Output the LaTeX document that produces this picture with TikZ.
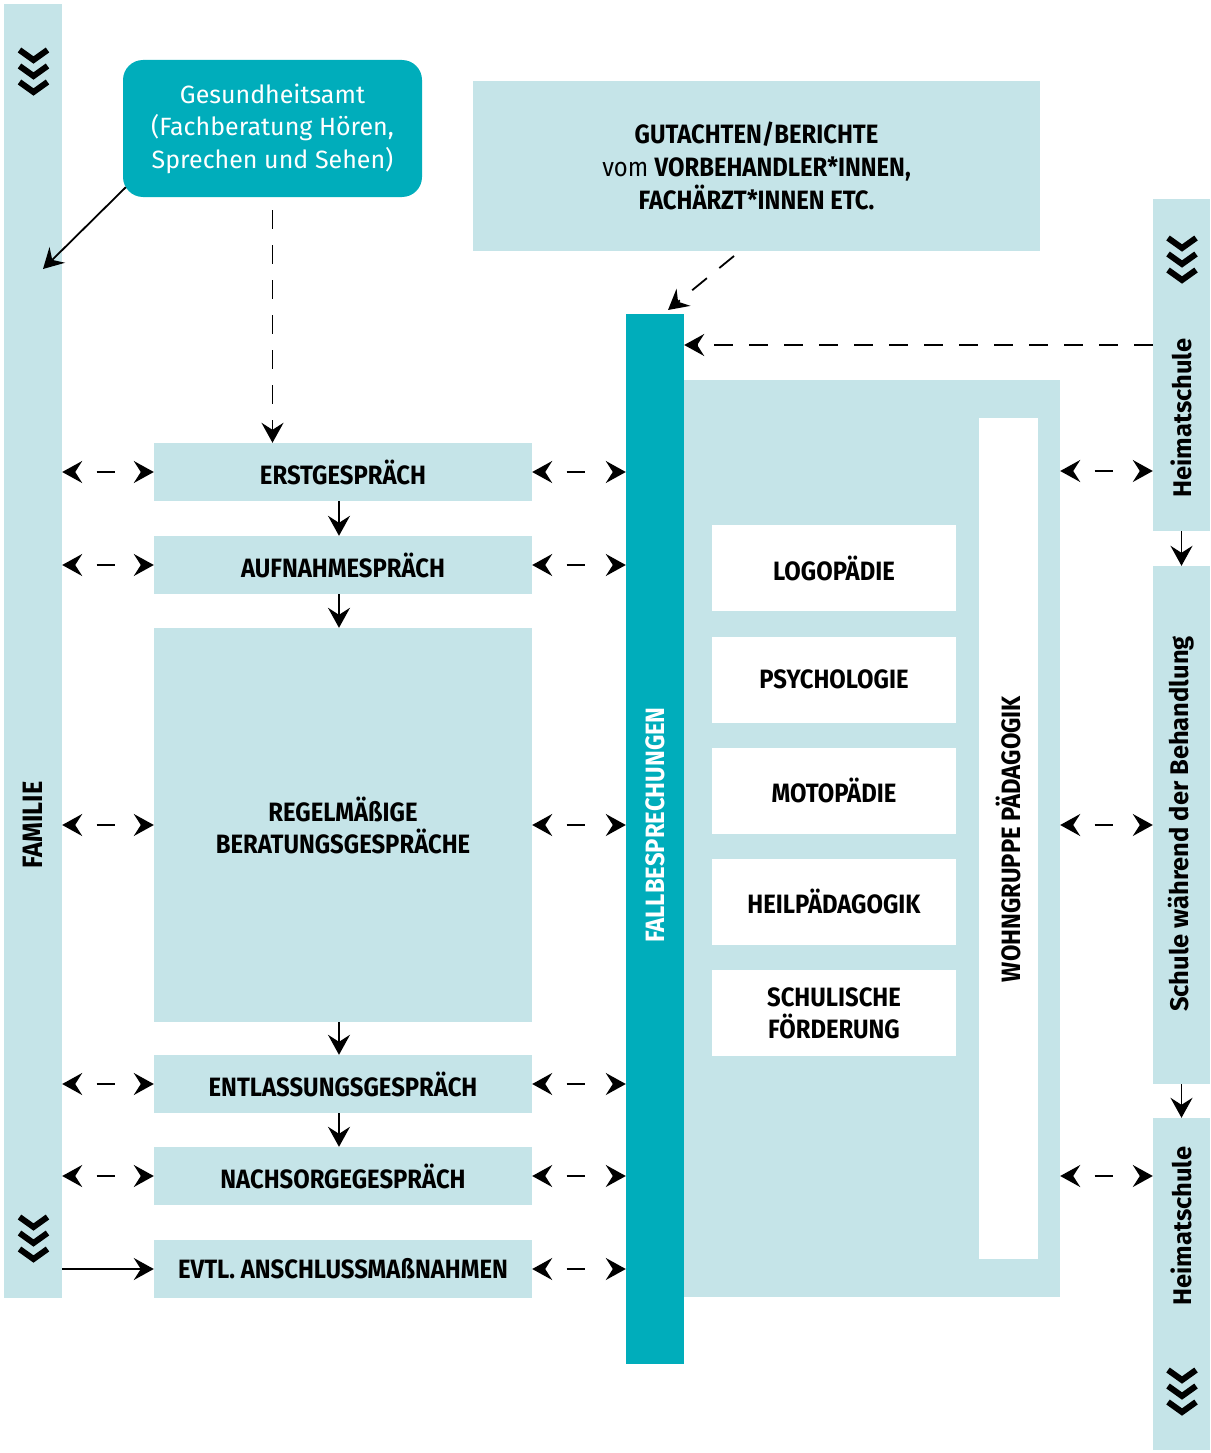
\documentclass[tikz,border=0pt]{standalone}
\usepackage{fontspec}
\setmainfont{Fira Sans}[FakeStretch=0.9]
\newfontfamily\widefont{Fira Sans}
\usetikzlibrary{arrows.meta}
\definecolor{lite}{RGB}{197,228,232}
\definecolor{tealc}{RGB}{0,173,187}
\newcommand\chevs[2]{\foreach \k in {0,16,32}{\draw[line width=6pt,miter limit=10] ({#1-14},{#2+\k}) -- ({#1},{#2+\k+10}) -- ({#1+14},{#2+\k});}}
\begin{document}
\begin{tikzpicture}[x=1pt,y=-1pt,
  lbox/.style={fill=lite,draw=none,inner sep=0pt,align=center,font=\bfseries\fontsize{26.5}{32}\selectfont},
  tbox/.style={fill=tealc,draw=none,inner sep=0pt,align=center},
  wbox/.style={fill=white,draw=none,inner sep=0pt,align=center,font=\bfseries\fontsize{26.5}{32}\selectfont},
  vlbl/.style={rotate=90,inner sep=0pt,font=\bfseries\fontsize{26.5}{30}\selectfont},
  vlblw/.style={rotate=90,inner sep=0pt,font=\widefont\bfseries\fontsize{25.5}{30}\selectfont},
  tip/.style={>={Stealth[length=20pt,width=22pt,inset=7pt]}},
  dbl/.style={tip,<->,line width=1.8pt,dash pattern=on 0pt off 22pt on 18pt off 300pt},
  dsh/.style={tip,->,line width=1.8pt,dash pattern=on 19pt off 16pt},
  sol/.style={tip,->,line width=1.8pt}]
\useasboundingbox (0,0) rectangle (1210,1453);
% left family bar
\node[lbox,minimum width=58pt,minimum height=1294pt] (fam) at (33,651) {};
\node[vlbl,font=\bfseries\fontsize{28}{30}\selectfont] (famlbl) at (33,825) {FAMILIE};
\chevs{33.5}{50}
\chevs{33.5}{1217}
% Gesundheitsamt
\node[tbox,rounded corners=20pt,minimum width=299pt,minimum height=137pt,text=white,font=\widefont\fontsize{25}{32.5}\selectfont] (ges) at (272.5,128.5) {Gesundheitsamt\\(Fachberatung Hören,\\Sprechen und Sehen)};
% Gutachten
\node[lbox,minimum width=567pt,minimum height=170pt,font=\fontsize{26.5}{33}\selectfont] (gut) at (756.5,166) {\textbf{GUTACHTEN/BERICHTE}\\vom \textbf{VORBEHANDLER*INNEN,}\\\textbf{FACHÄRZT*INNEN ETC.}};
% left column boxes
\node[lbox,minimum width=378pt,minimum height=58pt] (erst) at (343,472) {ERSTGESPRÄCH};
\node[lbox,minimum width=378pt,minimum height=58pt] (aufn) at (343,565) {AUFNAHMESPRÄCH};
\node[lbox,minimum width=378pt,minimum height=394pt] (regel) at (343,825) {REGELMÄßIGE\\BERATUNGSGESPRÄCHE};
\node[lbox,minimum width=378pt,minimum height=58pt] (entl) at (343,1084) {ENTLASSUNGSGESPRÄCH};
\node[lbox,minimum width=378pt,minimum height=58pt] (nach) at (343,1176) {NACHSORGEGESPRÄCH};
\node[lbox,minimum width=378pt,minimum height=58pt] (evtl) at (343,1269) {EVTL. ANSCHLUSSMAßNAHMEN};
% Fallbesprechungen
\node[tbox,minimum width=58pt,minimum height=1050pt] (fall) at (655,839) {};
\node[vlbl,text=white] (falllbl) at (655,825) {FALLBESPRECHUNGEN};
% big area
\node[lbox,minimum width=376pt,minimum height=917pt] (area) at (872,838.5) {};
\node[wbox,minimum width=59pt,minimum height=841pt] (wohn) at (1008.5,838.5) {};
\node[vlbl] (wohnlbl) at (1008.5,839) {WOHNGRUPPE PÄDAGOGIK};
\node[wbox,minimum width=244pt,minimum height=86pt] (logo) at (834,568) {LOGOPÄDIE};
\node[wbox,minimum width=244pt,minimum height=86pt] (psy) at (834,679.5) {PSYCHOLOGIE};
\node[wbox,minimum width=244pt,minimum height=86pt] (moto) at (834,790.5) {MOTOPÄDIE};
\node[wbox,minimum width=244pt,minimum height=86pt] (heil) at (834,901.5) {HEILPÄDAGOGIK};
\node[wbox,minimum width=244pt,minimum height=86pt] (schul) at (834,1013) {SCHULISCHE\\FÖRDERUNG};
% right bars
\node[lbox,minimum width=57pt,minimum height=332pt] (heim1) at (1181.5,365) {};
\node[vlblw] (heim1lbl) at (1181.5,418) {Heimatschule};
\chevs{1182}{238}
\node[lbox,minimum width=57pt,minimum height=518pt] (schule) at (1181.5,825) {};
\node[vlblw] (schulelbl) at (1181.5,824) {Schule während der Behandlung};
\node[lbox,minimum width=57pt,minimum height=332pt] (heim2) at (1181.5,1284) {};
\node[vlblw] (heim2lbl) at (1181.5,1226) {Heimatschule};
\chevs{1182}{1370}
% connectors
\coordinate (famtip) at (43,269);
\draw[sol] ([xshift=3pt,yshift=10pt]ges.south west) -- (famtip);
\draw[dsh,shorten <=13pt] (ges.south) -- (ges.south |- erst.north);
\coordinate (gutstart) at (734,256);
\coordinate (fallin) at (668,310);
\draw[dsh] (gutstart) -- (fallin);
\draw[dsh] (heim1.west |- 0,345) -- (fall.east |- 0,345);
\foreach \n in {erst,aufn,regel,entl,nach,evtl}{
  \draw[dbl] (\n.east) -- (fall.west |- \n.east);
}
\foreach \n in {erst,aufn,regel,entl,nach}{
  \draw[dbl] (fam.east |- \n.west) -- (\n.west);
}
\draw[sol] (fam.east |- evtl.west) -- (evtl.west);
\draw[sol] ([xshift=-4pt]erst.south) -- ([xshift=-4pt]aufn.north);
\draw[sol] ([xshift=-4pt]aufn.south) -- ([xshift=-4pt]regel.north);
\draw[sol] ([xshift=-4pt]regel.south) -- ([xshift=-4pt]entl.north);
\draw[sol] ([xshift=-4pt]entl.south) -- ([xshift=-4pt]nach.north);
\draw[dbl] (area.east |- 0,471) -- (heim1.west |- 0,471);
\draw[dbl] (area.east |- 0,825) -- (schule.west |- 0,825);
\draw[dbl] (area.east |- 0,1176) -- (heim2.west |- 0,1176);
\draw[sol] (heim1.south) -- (schule.north);
\draw[sol] (schule.south) -- (heim2.north);
\end{tikzpicture}
\end{document}
